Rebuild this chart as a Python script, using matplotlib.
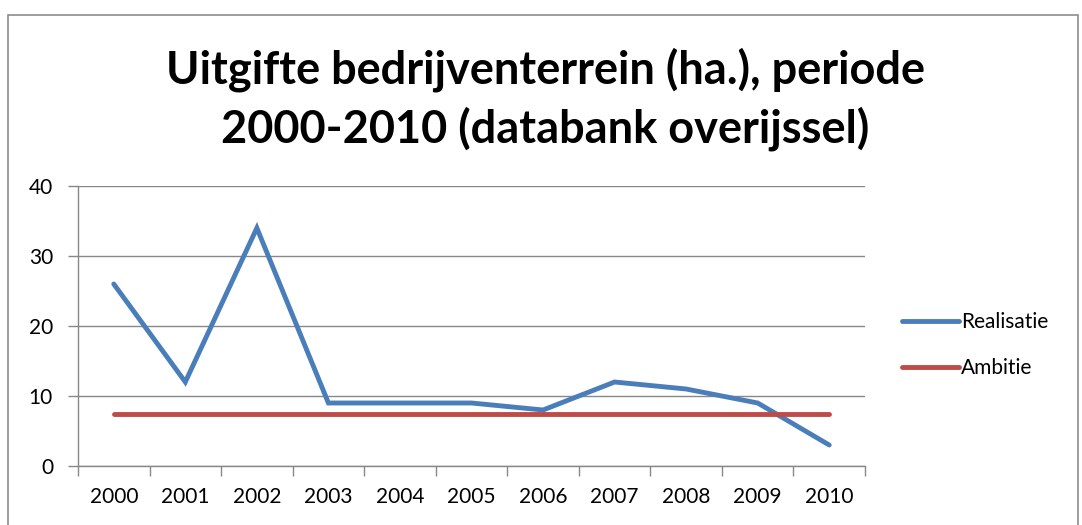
import matplotlib
matplotlib.use("Agg")
import matplotlib.pyplot as plt
from matplotlib.patches import Rectangle
import numpy as np

years = ["2000", "2001", "2002", "2003", "2004", "2005", "2006", "2007", "2008", "2009", "2010"]
realisatie = [26, 12, 34, 9, 9, 9, 8, 12, 11, 9, 3]
ambitie = [7.5] * 11
yticks = [0, 10, 20, 30, 40]

plt.rcParams['font.family'] = ['Lato', 'DejaVu Sans']

fig = plt.figure(figsize=(10.82, 5.25), dpi=100)
fig.patches.append(Rectangle((8/1082, -0.1), (1078-8)/1082, 1.1 - 15/525,
                             transform=fig.transFigure, fill=False, edgecolor='#8c8c8c', linewidth=1.2))

ax = fig.add_axes([78/1082, 1 - 466/525, (865-78)/1082, (466-186)/525])
x = np.arange(len(years))
ax.plot(x, realisatie, color='#4a7ebb', lw=3.5, solid_capstyle='round', solid_joinstyle='miter', label='Realisatie')
ax.plot(x, ambitie, color='#be4b48', lw=3.5, solid_capstyle='round', label='Ambitie')

ax.set_xlim(-0.5, len(years) - 0.5)
ax.set_ylim(0, 40)
ax.set_yticks(yticks)
ax.set_yticklabels([str(v) for v in yticks], fontsize=15)
ax.set_xticks(x)
ax.set_xticklabels(years, fontsize=15)
ax.tick_params(axis='x', which='major', length=0, pad=15)
ax.set_xticks(np.arange(-0.5, len(years), 1), minor=True)
ax.tick_params(axis='x', which='minor', length=7, color='#888888', width=1, direction='out')
ax.tick_params(axis='y', length=7, color='#888888', width=1, pad=11)
ax.grid(axis='y', color='#888888', lw=1)
ax.set_axisbelow(True)
for s in ['top', 'right']:
    ax.spines[s].set_visible(False)
for s in ['left', 'bottom']:
    ax.spines[s].set_color('#888888')
    ax.spines[s].set_linewidth(1)

leg = ax.legend(loc='center left', bbox_to_anchor=(883/1082, 1 - 345/525), bbox_transform=fig.transFigure,
                frameon=False, fontsize=15, handlelength=2.74, handletextpad=0.1, labelspacing=1.25)

fig.text(545/1082, 1 - 99/525, "Uitgifte bedrijventerrein (ha.), periode\n2000-2010 (databank overijssel)",
         ha='center', va='center', fontsize=32.5, fontweight='bold', linespacing=1.38)

fig.savefig("out.png", dpi=100)
